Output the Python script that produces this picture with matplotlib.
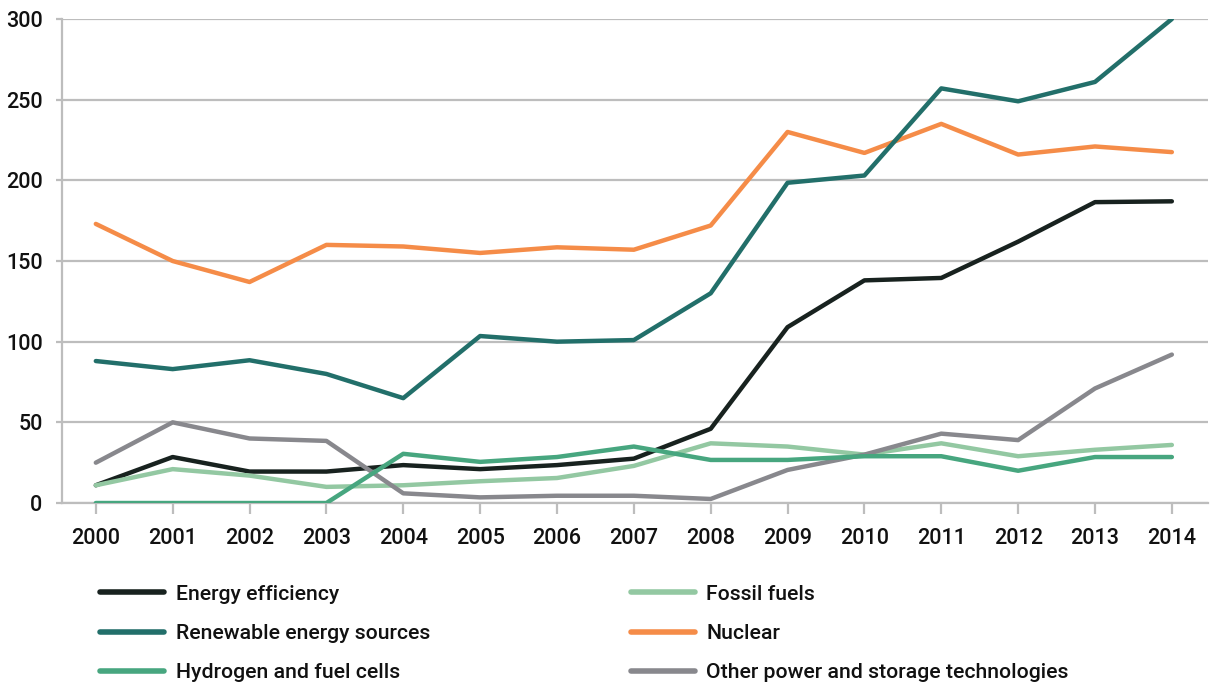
import matplotlib.pyplot as plt
from matplotlib.lines import Line2D

plt.rcParams['font.family'] = ['Roboto Medium', 'Roboto', 'DejaVu Sans']
plt.rcParams['font.weight'] = 'medium'

years = [2000, 2001, 2002, 2003, 2004, 2005, 2006, 2007, 2008, 2009, 2010, 2011, 2012, 2013, 2014]

energy_efficiency = [11, 28.5, 19.5, 19.5, 23.5, 21, 23.5, 27.5, 46, 109, 138, 139.5, 162, 186.5, 187]
renewable = [88, 83, 88.5, 80, 65, 103.5, 100, 101, 130, 198.5, 203, 257, 249, 261, 300]
hydrogen = [0, 0, 0, 0, 30.5, 25.5, 28.5, 35, 26.7, 26.7, 29, 29, 20, 28.5, 28.5]
fossil = [11, 21, 17, 10, 11, 13.5, 15.5, 23, 37, 35, 30, 37, 29, 33, 36]
nuclear = [173, 150, 137, 160, 159, 155, 158.5, 157, 172, 230, 217, 235, 216, 221, 217.5]
other = [25, 50, 40, 38.5, 6, 3.5, 4.5, 4.5, 2.5, 20.5, 30, 43, 39, 71, 92]

labels = ['Energy efficiency', 'Renewable energy sources', 'Hydrogen and fuel cells',
          'Fossil fuels', 'Nuclear', 'Other power and storage technologies']
colors = ['#18221f', '#226f6a', '#47a67f', '#93c8a2', '#f58c48', '#88888d']
series = [energy_efficiency, renewable, hydrogen, fossil, nuclear, other]

fig = plt.figure(figsize=(12.11, 6.84), dpi=100)
ax = fig.add_axes([0.0512, 0.2646, 0.9463, 0.7076])

x = list(range(len(years)))
# draw order: lighter lines underneath
order = [4, 1, 0, 3, 5, 2]
for i in order:
    ax.plot(x, series[i], color=colors[i], lw=3.2, solid_capstyle='round', zorder=3)

ax.set_xlim(-0.44, 14.47)
ax.set_ylim(0, 300)
ax.set_yticks([0, 50, 100, 150, 200, 250, 300])
ax.set_xticks(x)
ax.set_xticklabels([str(y) for y in years])
ax.grid(axis='y', color='#bdbdbd', lw=1.6)
ax.set_axisbelow(True)
for s in ['top', 'right']:
    ax.spines[s].set_visible(False)
for s in ['left', 'bottom']:
    ax.spines[s].set_color('#bdbdbd')
    ax.spines[s].set_linewidth(1.6)
ax.tick_params(axis='y', length=4, width=1.6, color='#bdbdbd', labelsize=15.5, pad=10)
ax.tick_params(axis='x', length=8, width=1.6, color='#bdbdbd', labelsize=15.5, pad=10)
for t in ax.get_xticklabels() + ax.get_yticklabels():
    t.set_color('#111111')

handles = [Line2D([], [], color=c, lw=4, solid_capstyle='round') for c in colors]
leg = fig.legend(handles, labels, loc='upper left', bbox_to_anchor=(0.067, 0.173),
                 ncol=2, frameon=False, handlelength=3.0,
                 handletextpad=0.55, labelspacing=0.95, columnspacing=9.45,
                 prop={'weight': 'medium', 'size': 15.3})
for t in leg.get_texts():
    t.set_color('#111111')

fig.savefig('out.png', dpi=100)
